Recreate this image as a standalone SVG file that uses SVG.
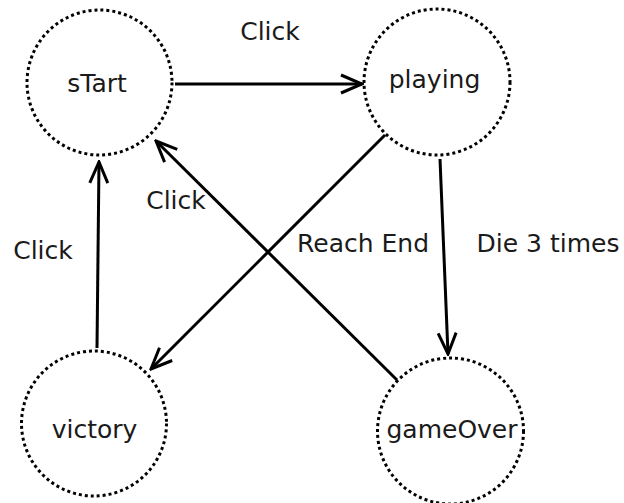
<svg xmlns="http://www.w3.org/2000/svg" width="624" height="503" viewBox="0 0 624 503">
  <style>
    .state { fill: none; stroke: #000; stroke-width: 3; stroke-dasharray: 3 3; }
    .label { font-family: "DejaVu Sans", Verdana, sans-serif; font-size: 25px; fill: #1a1a1a; }
    .edge { fill: none; stroke: #000; stroke-width: 3; marker-end: url(#arrow); }
  </style>
  <defs>
    <marker id="arrow" markerUnits="userSpaceOnUse" viewBox="-24 -12 26 24" refX="0" refY="0" markerWidth="26" markerHeight="24" orient="auto">
      <path d="M-21,-9 L0,0 L-21,9" fill="none" stroke="#000" stroke-width="3" stroke-linejoin="miter"/>
    </marker>
  </defs>
  <rect width="624" height="503" fill="#fff"/>

  <g id="connectors">
    <line class="edge" x1="175" y1="84" x2="362" y2="84"/>
    <line class="edge" x1="440" y1="159" x2="448" y2="354"/>
    <line class="edge" x1="385" y1="135" x2="151" y2="369"/>
    <line class="edge" x1="397" y1="380" x2="156" y2="141"/>
    <line class="edge" x1="97" y1="348" x2="99" y2="162"/>
    <text class="label" x="270" y="40" text-anchor="middle">Click</text>
    <text class="label" x="176" y="209" text-anchor="middle">Click</text>
    <text class="label" x="43" y="259" text-anchor="middle">Click</text>
    <text class="label" x="363" y="252" text-anchor="middle">Reach End</text>
    <text class="label" x="548" y="252" text-anchor="middle">Die 3 times</text>
  </g>

  <g id="sTart">
    <circle class="state" cx="99.5" cy="82.5" r="72.5"/>
    <text class="label" x="97" y="92" text-anchor="middle">sTart</text>
  </g>
  <g id="playing">
    <circle class="state" cx="437" cy="82" r="73"/>
    <text class="label" x="434.5" y="88" text-anchor="middle">playing</text>
  </g>
  <g id="victory">
    <circle class="state" cx="94" cy="423.5" r="72.5"/>
    <text class="label" x="94.5" y="438" text-anchor="middle">victory</text>
  </g>
  <g id="gameOver">
    <circle class="state" cx="450.5" cy="431" r="73"/>
    <text class="label" x="452" y="438" text-anchor="middle">gameOver</text>
  </g>
</svg>
